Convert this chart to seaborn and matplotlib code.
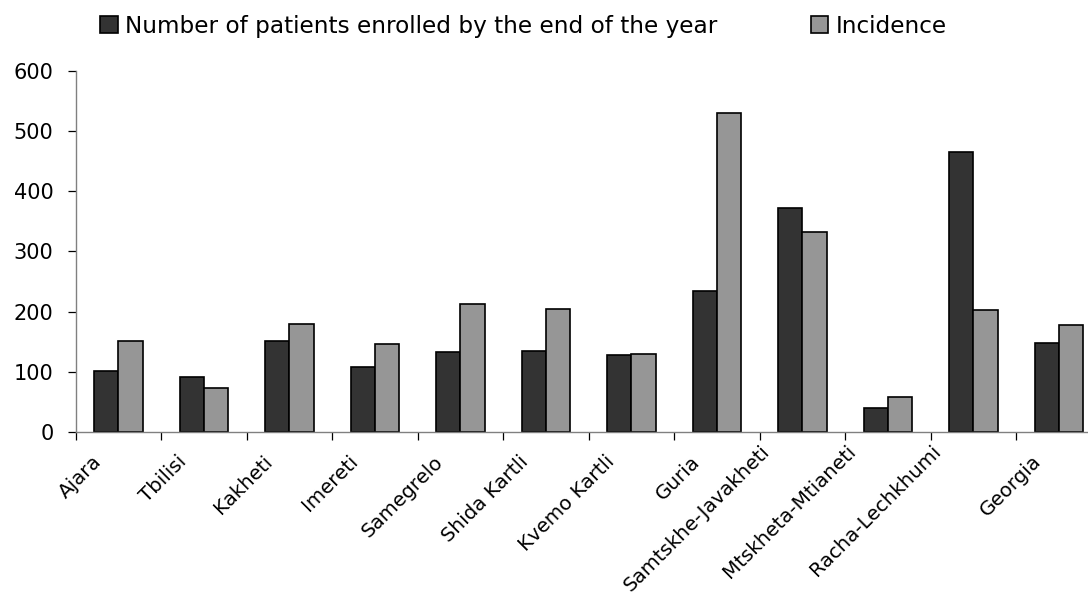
import numpy as np
import pandas as pd
import seaborn as sns
import matplotlib.pyplot as plt
import matplotlib.transforms as mtransforms

regions = ['Ajara', 'Tbilisi', 'Kakheti', 'Imereti', 'Samegrelo', 'Shida Kartli',
           'Kvemo Kartli', 'Guria', 'Samtskhe-Javakheti', 'Mtskheta-Mtianeti',
           'Racha-Lechkhumi', 'Georgia']
enrolled = [101, 92, 151, 108, 133, 135, 128, 234, 372, 40, 465, 148]
incidence = [151, 73, 180, 147, 212, 205, 130, 530, 333, 58, 202, 177]
series = ['Number of patients enrolled by the end of the year', 'Incidence']

df = pd.DataFrame({'Region': regions * 2,
                   'Value': enrolled + incidence,
                   'Series': [series[0]] * len(regions) + [series[1]] * len(regions)})

sns.set_style('white')
plt.rcParams['font.family'] = ['DejaVu Sans']
plt.rcParams['text.color'] = 'black'

fig = plt.figure(figsize=(10.88, 6.01), dpi=100)
ax = fig.add_axes([0.0696, 0.2812, 0.943, 0.6007])

sns.barplot(data=df, x='Region', y='Value', hue='Series', order=regions,
            hue_order=series, palette=['#333333', '#969696'], width=0.57,
            edgecolor='black', linewidth=1.2, saturation=1, ax=ax, legend=True)

ax.set_xlim(-0.5, len(regions) - 0.5)
ax.set_ylim(0, 600)
ax.set_yticks(np.arange(0, 601, 100))
ax.tick_params(axis='y', labelsize=15, length=6, width=0.9, color='black',
               pad=10, direction='out', left=True, labelcolor='black')

# boundaries get tick marks, labels sit at category centres
ax.set_xticks(np.arange(-0.5, len(regions), 1))
ax.set_xticklabels([])
ax.set_xticks(np.arange(len(regions)), minor=True)
ax.set_xticklabels(regions, minor=True, rotation=45, ha='right',
                   rotation_mode='anchor', fontsize=14.3, color='black')
ax.tick_params(axis='x', which='major', length=6, width=0.9, color='black',
               direction='out', bottom=True)
ax.tick_params(axis='x', which='minor', length=0, pad=18)
for lab in ax.get_xticklabels(minor=True):
    if len(lab.get_text()) > 14:
        dx, dy = -42, 15
    else:
        dx, dy = -27, 5
    offset = mtransforms.ScaledTranslation(dx / 100, dy / 100, fig.dpi_scale_trans)
    lab.set_transform(lab.get_transform() + offset)

ax.set_xlabel('')
ax.set_ylabel('')
for s in ['top', 'right']:
    ax.spines[s].set_visible(False)
for s in ['left', 'bottom']:
    ax.spines[s].set_color('#808080')
    ax.spines[s].set_linewidth(1.0)

handles, labels = ax.get_legend_handles_labels()
ax.get_legend().remove()
fig.legend(handles, labels, loc='upper left', bbox_to_anchor=(0.073, 1.01),
           ncol=2, frameon=False, fontsize=16.7, handlelength=0.75,
           handleheight=0.75, handletextpad=0.3, columnspacing=4.05,
           labelcolor='black')

fig.savefig('out.png', dpi=100)
